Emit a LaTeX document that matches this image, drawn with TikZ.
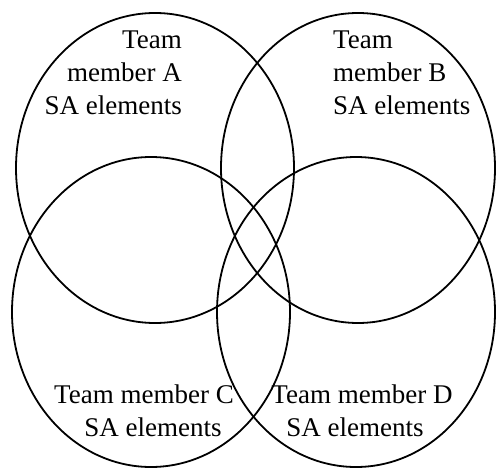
\documentclass[tikz,border=0pt]{standalone}
\usepackage{fontspec}
\setmainfont{Liberation Serif}
\begin{document}
\begin{tikzpicture}[x=1pt,y=-1pt,
  member/.style={draw=black, line width=1.8pt},
  label/.style={inner sep=0pt, font=\fontsize{27}{33}\selectfont}]
\useasboundingbox (0,0) rectangle (497,470);
% four overlapping member sets
\draw[member] (155,168) ellipse [x radius=139, y radius=155];
\draw[member] (358,168) ellipse [x radius=137, y radius=155];
\draw[member] (151,312) ellipse [x radius=139, y radius=155];
\draw[member] (356,312) ellipse [x radius=139, y radius=155];
% set labels
\node[label, align=right, anchor=north east] (la) at (182,31) {Team\\member A\\SA elements};
\node[label, align=left, anchor=north west] (lb) at (333,31) {Team\\member B\\SA elements};
\node[label, align=center, anchor=north] (lc) at (144,385) {Team member C\\\hspace*{18pt}SA elements};
\node[label, align=center, anchor=north] (ld) at (362,385) {Team member D\\\hspace*{-14pt}SA elements};
\end{tikzpicture}
\end{document}
